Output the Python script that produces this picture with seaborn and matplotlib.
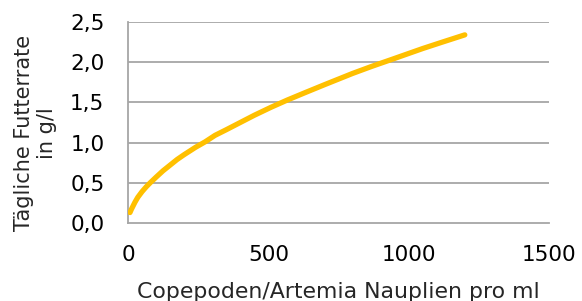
import numpy as np
import pandas as pd
import seaborn as sns
import matplotlib.pyplot as plt

# values
nauplien = [7, 12, 25, 35, 50, 65, 79, 100, 125, 150, 175, 200, 240, 275, 310, 350,
            400, 450, 510, 568, 630, 700, 800, 870, 936, 1050, 1120, 1200]
futterrate = [0.13, 0.17, 0.26, 0.32, 0.39, 0.45, 0.50, 0.57, 0.65, 0.72, 0.79, 0.85,
              0.94, 1.01, 1.09, 1.16, 1.25, 1.34, 1.44, 1.53, 1.62, 1.72, 1.86, 1.95,
              2.03, 2.17, 2.25, 2.34]

y_ticks = [0.0, 0.5, 1.0, 1.5, 2.0, 2.5]
y_labels = ["0,0", "0,5", "1,0", "1,5", "2,0", "2,5"]
x_ticks = [0, 500, 1000, 1500]
x_labels = ["0", "500", "1000", "1500"]

df = pd.DataFrame({"x": nauplien, "y": futterrate})

sns.set_style("white")
plt.rcParams["font.family"] = ["DejaVu Sans"]

fig = plt.figure(figsize=(5.82, 3.01), dpi=100)
ax = fig.add_axes([128 / 582, 78 / 301, 421 / 582, 201 / 301])

grid_col = "#A6A6A6"
for yv in y_ticks[1:]:
    ax.axhline(yv, color=grid_col, lw=1.3, zorder=1)

sns.lineplot(data=df, x="x", y="y", ax=ax, color="#FFC000", lw=3.8,
             solid_capstyle="round", zorder=3)

ax.set_xlim(0, 1500)
ax.set_ylim(0, 2.5)
ax.set_xticks(x_ticks)
ax.set_xticklabels(x_labels)
ax.set_yticks(y_ticks)
ax.set_yticklabels(y_labels)

for side in ["top", "right"]:
    ax.spines[side].set_visible(False)
for side in ["left", "bottom"]:
    ax.spines[side].set_color(grid_col)
    ax.spines[side].set_linewidth(1.3)

ax.tick_params(axis="both", colors=grid_col, labelcolor="black",
               labelsize=15.5, length=6, width=1.3, direction="out")
ax.tick_params(axis="y", pad=11)
ax.tick_params(axis="x", pad=10)

ax.set_xlabel("Copepoden/Artemia Nauplien pro ml", fontsize=15.8, labelpad=12)
ax.set_ylabel("Tägliche Futterrate\nin g/l", fontsize=15, linespacing=1.2)
ax.yaxis.set_label_coords(-0.169, 0.448)

fig.savefig("out.png", dpi=100)
